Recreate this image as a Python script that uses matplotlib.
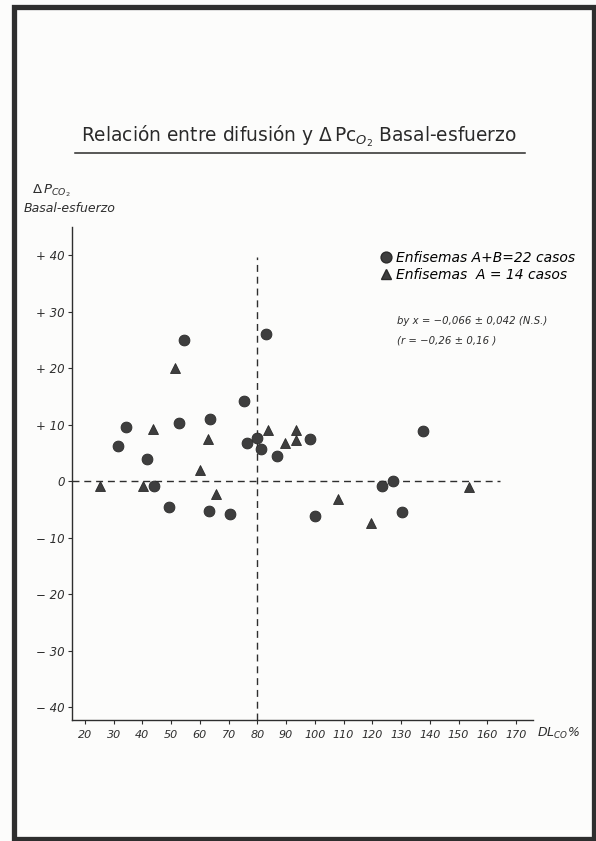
import matplotlib
matplotlib.use('Agg')
import matplotlib.pyplot as plt
from matplotlib.patches import Rectangle
from matplotlib.lines import Line2D

# Enfisemas A+B (circles)
circ_x = [31.4, 34.3, 41.5, 44.2, 49.3, 52.7, 54.5, 63.6, 63.3, 70.5, 75.4,
          76.5, 80.0, 81.4, 82.9, 86.9, 98.3, 100.0, 123.2, 127.3, 130.2, 137.7]
circ_y = [6.2, 9.5, 4.0, -0.9, -4.5, 10.3, 25.0, 11.0, -5.3, -5.8, 14.2,
          6.8, 7.7, 5.7, 26.1, 4.5, 7.5, -6.1, -0.9, 0.0, -5.5, 8.8]
# Enfisemas A (triangles)
tri_x = [25.3, 40.3, 43.7, 51.2, 60.0, 62.9, 65.6, 83.7, 89.5, 93.4, 93.5,
         107.9, 119.5, 153.5]
tri_y = [-0.9, -0.9, 9.3, 20.0, 2.0, 7.4, -2.2, 9.1, 6.8, 7.2, 9.0,
         -3.1, -7.4, -1.1]

xticks = [20, 30, 40, 50, 60, 70, 80, 90, 100, 110, 120, 130, 140, 150, 160, 170]
yticks = [40, 30, 20, 10, 0, -10, -20, -30, -40]
ytick_labels = ['+ 40', '+ 30', '+ 20', '+ 10', '0', '\u2212 10', '\u2212 20', '\u2212 30', '\u2212 40']

W, H = 596, 841
ink = '#2e2e2e'
plt.rcParams['font.family'] = ['DejaVu Sans']
plt.rcParams['mathtext.fontset'] = 'dejavusans'

fig = plt.figure(figsize=(W / 100, H / 100), dpi=100)
fig.patch.set_facecolor('#fcfcfb')


def fx(x):
    return x / W


def fy(y):
    return 1 - y / H


# page frame
fig.patches.append(Rectangle((fx(14), fy(839)), fx(594) - fx(14), fy(7) - fy(839),
                             transform=fig.transFigure, fill=False,
                             edgecolor='#2e2e2e', linewidth=3.8))

ax = fig.add_axes([fx(71.7), fy(720), fx(533) - fx(71.7), fy(227) - fy(720)])
ax.set_facecolor('none')
ax.set_xlim(15.4, 175.9)
ax.set_ylim(-42.3, 45.0)
for s in ['top', 'right']:
    ax.spines[s].set_visible(False)
for s in ['left', 'bottom']:
    ax.spines[s].set_color(ink)
    ax.spines[s].set_linewidth(1.0)

ax.set_xticks(xticks)
ax.set_xticklabels([str(t) for t in xticks], style='italic', fontsize=8, color=ink)
ax.set_yticks(yticks)
ax.set_yticklabels(ytick_labels, style='italic', fontsize=8.5, color=ink)
ax.tick_params(axis='x', direction='out', length=3, width=0.8, color=ink, pad=4)
ax.tick_params(axis='y', direction='out', length=3, width=0.8, color=ink, pad=2)

# reference lines
ax.vlines(80, -42.3, 39.6, colors=ink, linestyles=(0, (5, 3.5)), linewidth=1.0)
ax.hlines(0, 15.4, 164.4, colors=ink, linestyles=(0, (5, 3.5)), linewidth=1.0)

ax.plot(circ_x, circ_y, 'o', ms=7.8, color='#3e3e3e', mec='#2a2a2a', mew=0.6, clip_on=False)
ax.plot(tri_x, tri_y, '^', ms=7.8, color='#3e3e3e', mec='#2a2a2a', mew=0.6, clip_on=False)

# legend
handles = [Line2D([], [], marker='o', ls='none', ms=7.8, color='#3e3e3e', mec='#2a2a2a'),
           Line2D([], [], marker='^', ls='none', ms=7.8, color='#3e3e3e', mec='#2a2a2a')]
ax.legend(handles, ['Enfisemas A+B=22 casos', 'Enfisemas  A = 14 casos'],
          loc='upper left', bbox_to_anchor=(fx(382), fy(251)), bbox_transform=fig.transFigure,
          frameon=False, handlelength=0.6, handletextpad=0.4, labelspacing=0.2,
          borderpad=0, borderaxespad=0, prop={'style': 'italic', 'size': 10})

# regression text
fig.text(fx(397), fy(321), 'by x = \u22120,066 \u00b1 0,042 (N.S.)', style='italic',
         fontsize=7.3, color=ink, va='center', ha='left')
fig.text(fx(397), fy(340), '(r = \u22120,26 \u00b1 0,16 )', style='italic',
         fontsize=7.3, color=ink, va='center', ha='left')

# title with underline
fig.text(fx(299), fy(136), r'Relación entre difusión y $\Delta\,$Pc$_{O_2}$ Basal-esfuerzo',
         fontsize=13.4, color='#2a2a2a', ha='center', va='center')
fig.add_artist(Line2D([fx(75), fx(525)], [fy(152.7), fy(152.7)], transform=fig.transFigure,
                      color='#2a2a2a', linewidth=1.1))

# axis labels
fig.text(fx(32), fy(191), r'$\Delta\,$P$_{CO_2}$', style='italic', fontsize=9.5,
         color=ink, ha='left', va='center')
fig.text(fx(24), fy(209), 'Basal-esfuerzo', style='italic', fontsize=9,
         color=ink, ha='left', va='center')
fig.text(fx(537), fy(733), r'DL$_{CO}$%', style='italic', fontsize=9,
         color=ink, ha='left', va='center')

fig.savefig('out.png', dpi=100, facecolor=fig.get_facecolor())
